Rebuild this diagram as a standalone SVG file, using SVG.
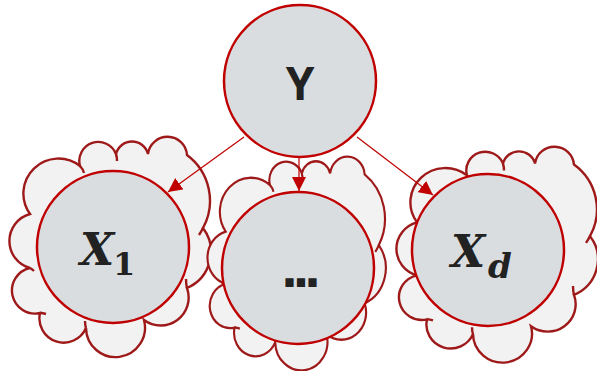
<svg xmlns="http://www.w3.org/2000/svg" width="597" height="371" viewBox="0 0 597 371">
<style>
.cloud{fill:#f2f2f2;stroke:#9e1a1a;stroke-width:2.4;vector-effect:non-scaling-stroke}
.tail{fill:none;stroke:#9e1a1a;stroke-width:2.4;vector-effect:non-scaling-stroke}
.node{fill:#d9dde0;stroke:#c00000;stroke-width:2.5}
.lbl{fill:#222;font-family:"Open Sans","Liberation Sans",sans-serif;font-weight:bold}
.dots{fill:#222;font-family:"DejaVu Sans",sans-serif;font-weight:bold}
.math{fill:#222;font-family:"DejaVu Serif","Liberation Serif",serif;font-weight:bold}
.edge{stroke:#c00000;stroke-width:1.2;fill:none}
</style>
<defs>
<path id="cloudShape" d="M30,268 A28 28 0 0 1 30,214 A35 35 0 0 1 80,166 A19 19 0 0 1 116,154 A16.5 16.5 0 0 1 148,154 A19.6 19.6 0 0 1 187,155 A57 57 0 0 1 203,228 A39.5 39.5 0 0 1 187,288 A28 28 0 0 1 144,320 A29.5 29.5 0 1 1 86,328 A24.3 24.3 0 0 1 40,313 A23 23 0 0 1 30,268 Z"/>
<path id="cloudTails" d="M80,166 Q83,169 84,173 M116,154 Q117,157 117,161 M203,228 Q201,232 199,235 M187,288 Q186,284 186,279 M86,328 Q85,325 85,321 M40,313 Q43,313 46,314 M30,268 Q32,269 34,271"/>
<marker id="arr" viewBox="0 0 14 14" refX="14" refY="7" markerWidth="14" markerHeight="14" markerUnits="userSpaceOnUse" orient="auto">
<path d="M0,0 L14,7 L0,14 Z" fill="#c00000"/>
</marker>
</defs>
<g id="node-x1">
<use href="#cloudShape" class="cloud"/>
<use href="#cloudTails" class="tail"/>
<circle class="node" cx="113" cy="247" r="76"/>
<text class="math" x="80" y="265" font-size="44" font-style="italic">X</text>
<text class="math" x="113" y="275" font-size="32">1</text>
</g>
<g id="node-mid">
<g transform="translate(208,153) scale(0.885,0.97) translate(-10,-133)">
<use href="#cloudShape" class="cloud"/>
<use href="#cloudTails" class="tail"/>
</g>
<circle class="node" cx="298" cy="268" r="76"/>
<text class="dots" x="298" y="287" font-size="46" text-anchor="middle" letter-spacing="-6">...</text>
</g>
<g id="node-xd">
<g transform="translate(397,143) scale(1,0.98) translate(-10,-133)">
<use href="#cloudShape" class="cloud"/>
<use href="#cloudTails" class="tail"/>
</g>
<circle class="node" cx="488" cy="250" r="76"/>
<text class="math" x="451" y="267" font-size="44" font-style="italic">X</text>
<text class="math" x="488" y="278" font-size="34" font-style="italic">d</text>
</g>
<g id="node-y">
<circle class="node" cx="300" cy="81" r="76"/>
<text class="lbl" x="300" y="100" font-size="46" text-anchor="middle">Y</text>
</g>
<g id="connectors">
<line class="edge" x1="244" y1="137" x2="168" y2="192" marker-end="url(#arr)"/>
<line class="edge" x1="299" y1="158" x2="299" y2="191" marker-end="url(#arr)"/>
<line class="edge" x1="357" y1="137" x2="433" y2="195" marker-end="url(#arr)"/>
</g>
</svg>
